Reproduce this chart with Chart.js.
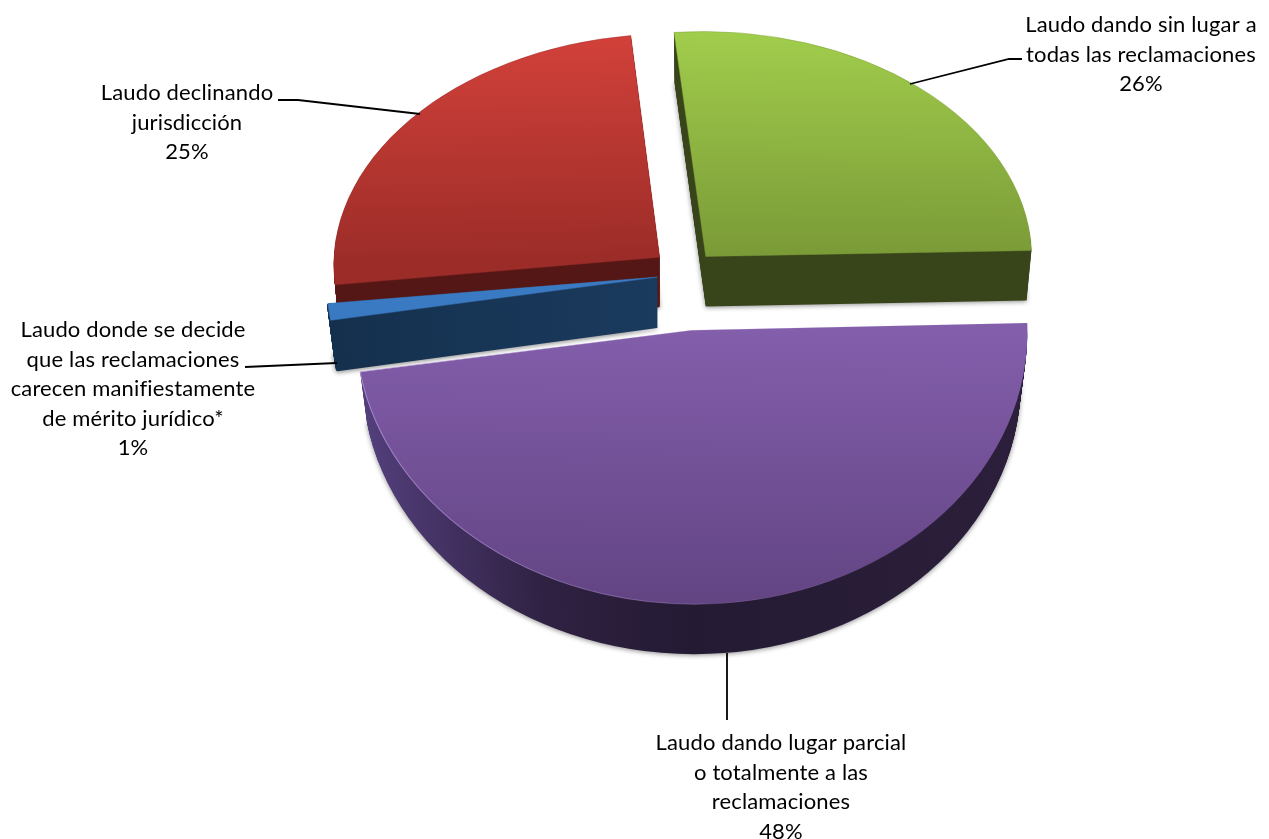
<!DOCTYPE html>
<html>
<head>
<meta charset="utf-8">
<style>
  html, body { margin: 0; padding: 0; background: #fff; }
  canvas { display: block; }
</style>
<script src="https://cdn.jsdelivr.net/npm/chart.js@4/dist/chart.umd.min.js"></script>
</head>
<body>
<canvas id="pie" width="1269" height="839"></canvas>
<script>
const categories = [
    ['Laudo dando sin lugar a', 'todas las reclamaciones'],
    ['Laudo dando lugar parcial', 'o totalmente a las', 'reclamaciones'],
    ['Laudo donde se decide', 'que las reclamaciones', 'carecen manifiestamente', 'de mérito jurídico*'],
    ['Laudo declinando', 'jurisdicción']
];
const shares = [26, 48, 1, 25];

// look of each slice, same order as the data
const faceColors = [['#A1CD4C', '#7A9A37'], ['#835EAB', '#624483'], ['#3B7FCA', '#3A7AC2'], ['#D2413A', '#9C2C28']];
const wallStops = [
    [[0, '#38441A'], [1, '#38441A']],
    [[0, '#54407E'], [0.28, '#2F2142'], [0.5, '#241A33'], [1, '#2C1F3B']],
    [[0, '#14304D'], [1, '#21456F']],
    [[0, '#551715'], [1, '#551715']]
];
const explode = [30, 68, 29, 34];
const squash = [0.69, 0.84, 0.83, 0.685];
const shear = [0.006, 0.007, 0, -0.018];
const skewX = [0, 0, 0, -0.009];
const widen = [1, 1.03, 1.015, 1];
const nudge = [[0, 0], [-1, 1.5], [0, 2], [0, 0]];
const wallTaper = [0.985, 0.98, 0.98, 0.985]; // far edge of the wall is a bit narrower
const paintOrder = [0, 3, 2, 1];
const depth = 50;

// text and leader lines
const labelCenters = [[1141, 25], [781, 743], [133, 330], [187, 93]];
const lineStep = 29.6;
const leaders = [
    [[910, 84], [1009, 59], [1022, 59]],
    [[727, 653], [727, 720]],
    [[245, 367], [337, 363]],
    [[278, 100], [298, 100], [420, 114]]
];

const pie3d = {
    id: 'pie3d',
    beforeDatasetDraw(chart) {
        const ctx = chart.ctx;
        const arcs = chart.getDatasetMeta(0).data;
        paintOrder.forEach(i => {
            const arc = arcs[i];
            const saved = arc.options;
            const mid = (arc.startAngle + arc.endAngle) / 2;
            const r = arc.outerRadius;
            const place = (d) => {
                const taper = 1 - (1 - wallTaper[i]) * d / depth;
                ctx.translate(
                    arc.x + explode[i] * Math.cos(mid) + nudge[i][0],
                    arc.y + explode[i] * Math.sin(mid) * squash[i] + nudge[i][1] + d
                );
                ctx.transform(widen[i] * taper, shear[i], skewX[i], squash[i], 0, 0);
                ctx.translate(-arc.x, -arc.y);
            };

            const wall = ctx.createLinearGradient(arc.x - r, 0, arc.x + r, 0);
            wallStops[i].forEach(s => wall.addColorStop(s[0], s[1]));
            for (let d = depth; d > 0; d--) {
                ctx.save();
                if (d === depth) {
                    ctx.shadowColor = 'rgba(0,0,0,0.45)';
                    ctx.shadowBlur = 5;
                    ctx.shadowOffsetY = 1;
                }
                place(d);
                // the 1% wedge is too thin at its tip, a border closes the gaps
                arc.options = { ...saved, backgroundColor: wall, borderColor: wall, borderWidth: i === 2 ? 2.2 : 0 };
                arc.draw(ctx);
                ctx.restore();
            }

            const lower = i === 1;
            const face = ctx.createLinearGradient(0, lower ? arc.y : arc.y - r, 0, lower ? arc.y + r : arc.y);
            face.addColorStop(0, faceColors[i][0]);
            face.addColorStop(1, faceColors[i][1]);
            let rim = faceColors[i][1];
            if (i === 1) {
                rim = ctx.createLinearGradient(arc.x - r, 0, arc.x + r, 0);
                rim.addColorStop(0, 'rgba(176,146,214,0.85)');
                rim.addColorStop(0.6, 'rgba(176,146,214,0.25)');
                rim.addColorStop(1, 'rgba(176,146,214,0)');
            }
            ctx.save();
            place(0);
            arc.options = {
                ...saved,
                backgroundColor: face,
                borderColor: rim,
                borderWidth: i === 1 ? 1 : 0.5
            };
            arc.draw(ctx);
            ctx.restore();
            arc.options = saved;
        });
        return false;
    },
    afterDraw(chart) {
        const ctx = chart.ctx;
        ctx.save();
        ctx.strokeStyle = '#000';
        ctx.lineWidth = 1.8;
        leaders.forEach(pts => {
            ctx.beginPath();
            pts.forEach((p, k) => k ? ctx.lineTo(p[0], p[1]) : ctx.moveTo(p[0], p[1]));
            ctx.stroke();
        });
        ctx.fillStyle = '#000';
        ctx.font = '22px Lato';
        ctx.letterSpacing = '0.15px';
        ctx.textAlign = 'center';
        ctx.textBaseline = 'middle';
        categories.forEach((lines, i) => {
            const rows = [...lines, shares[i] + '%'];
            rows.forEach((t, k) => ctx.fillText(t, labelCenters[i][0], labelCenters[i][1] + k * lineStep));
        });
        ctx.restore();
    }
};

new Chart(document.getElementById('pie').getContext('2d'), {
    type: 'pie',
    data: {
        labels: categories.map(c => c.join(' ')),
        datasets: [{
            data: shares,
            backgroundColor: faceColors.map(c => c[0]),
            borderWidth: 0,
            radius: 326
        }]
    },
    options: {
        responsive: false,
        animation: false,
        rotation: -5.6,
        layout: { padding: { left: 103, right: 0, top: 0, bottom: 295 } },
        plugins: { legend: { display: false }, tooltip: { enabled: false } }
    },
    plugins: [pie3d]
});
</script>
</body>
</html>
